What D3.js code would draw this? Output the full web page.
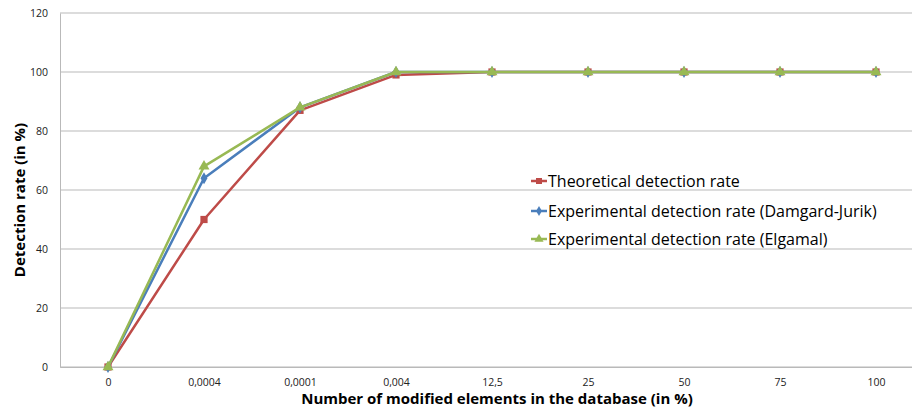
<!DOCTYPE html>
<html>
<head>
<meta charset="utf-8">
<script src="https://cdn.jsdelivr.net/npm/d3@7"></script>
<style>
  body { margin: 0; background: #fff; }
  text { font-family: "Open Sans", Lato, sans-serif; fill: #000; }
</style>
</head>
<body>
<div id="chart"></div>
<script>
// chart data
var categories = ["0", "0,0004", "0,0001", "0,004", "12,5", "25", "50", "75", "100"];
var theoretical = [0, 50, 87, 99, 100, 100, 100, 100, 100];
var damgardJurik = [0, 64, 88, 100, 100, 100, 100, 100, 100];
var elgamal = [0, 68, 88, 100, 100, 100, 100, 100, 100];
var yTicks = [0, 20, 40, 60, 80, 100, 120];
var seriesNames = ["Theoretical detection rate", "Experimental detection rate (Damgard-Jurik)", "Experimental detection rate (Elgamal)"];

var w = 912;
var h = 412;
var plotLeft = 60, plotRight = 924, plotTop = 13, plotBottom = 367;

var series = [
    { name: seriesNames[0], values: theoretical, color: "#BE4B48", marker: d3.symbolSquare, size: 52 },
    { name: seriesNames[1], values: damgardJurik, color: "#4A7EBB", marker: d3.symbolDiamond, size: 42 },
    { name: seriesNames[2], values: elgamal, color: "#98B954", marker: d3.symbolTriangle, size: 52 }
];

var svg = d3.select("#chart")
    .append("svg")
    .attr("width", w)
    .attr("height", h);

var xScale = d3.scalePoint()
    .domain(categories)
    .range([plotLeft, plotRight])
    .padding(0.5);

var yScale = d3.scaleLinear()
    .domain([0, 120])
    .range([plotBottom, plotTop]);

// gridlines
svg.selectAll("line.grid")
    .data(yTicks)
    .enter()
    .append("line")
    .attr("class", "grid")
    .attr("x1", plotLeft)
    .attr("x2", plotRight)
    .attr("y1", function(d) { return yScale(d); })
    .attr("y2", function(d) { return yScale(d); })
    .attr("stroke", "#B9B9B9")
    .attr("stroke-width", 1);

// y axis
var yAxis = svg.append("g")
    .attr("transform", "translate(" + plotLeft + ",0)")
    .call(d3.axisLeft(yScale).tickValues(yTicks).tickSize(0).tickPadding(12));
yAxis.select(".domain").attr("stroke", "#B9B9B9");
yAxis.selectAll("text").style("font-size", "10.5px").style("fill", "#222");

// x axis
var xAxis = svg.append("g")
    .attr("transform", "translate(0," + plotBottom + ")")
    .call(d3.axisBottom(xScale).tickSize(0).tickPadding(12));
xAxis.select(".domain").attr("stroke", "#B9B9B9");
xAxis.selectAll("text").style("font-size", "10.5px").style("fill", "#222");

// lines and markers
var line = d3.line()
    .x(function(d, i) { return xScale(categories[i]); })
    .y(function(d) { return yScale(d); });

series.forEach(function(s, k) {
    svg.append("path")
        .datum(s.values)
        .attr("d", line)
        .attr("fill", "none")
        .attr("stroke", s.color)
        .attr("stroke-width", 2.5)
        .attr("stroke-linejoin", "round");

    svg.selectAll("path.marker" + k)
        .data(s.values)
        .enter()
        .append("path")
        .attr("class", "marker" + k)
        .attr("d", d3.symbol().type(s.marker).size(s.size))
        .attr("transform", function(d, i) { return "translate(" + xScale(categories[i]) + "," + yScale(d) + ")"; })
        .attr("fill", s.color);
});

// legend
var legend = svg.selectAll("g.legend")
    .data(series)
    .enter()
    .append("g")
    .attr("class", "legend")
    .attr("transform", function(d, i) { return "translate(531," + [181, 211, 239][i] + ")"; });

legend.append("line")
    .attr("x1", 0)
    .attr("x2", 16)
    .attr("stroke", function(d) { return d.color; })
    .attr("stroke-width", 2.5);

legend.append("path")
    .attr("d", function(d) { return d3.symbol().type(d.marker).size(d.size * 0.7)(); })
    .attr("transform", "translate(8,0)")
    .attr("fill", function(d) { return d.color; });

legend.append("text")
    .attr("x", 17)
    .attr("dy", "0.35em")
    .style("font-size", "16px")
    .text(function(d) { return d.name; });

// axis titles
svg.append("text")
    .attr("text-anchor", "middle")
    .attr("transform", "translate(497, 404)")
    .style("font-size", "15px")
    .style("font-weight", "bold")
    .text("Number of modified elements in the database (in %)");

svg.append("text")
    .attr("text-anchor", "middle")
    .attr("transform", "translate(25, 200) rotate(-90)")
    .style("font-size", "15px")
    .style("font-weight", "bold")
    .text("Detection rate (in %)");
</script>
</body>
</html>
